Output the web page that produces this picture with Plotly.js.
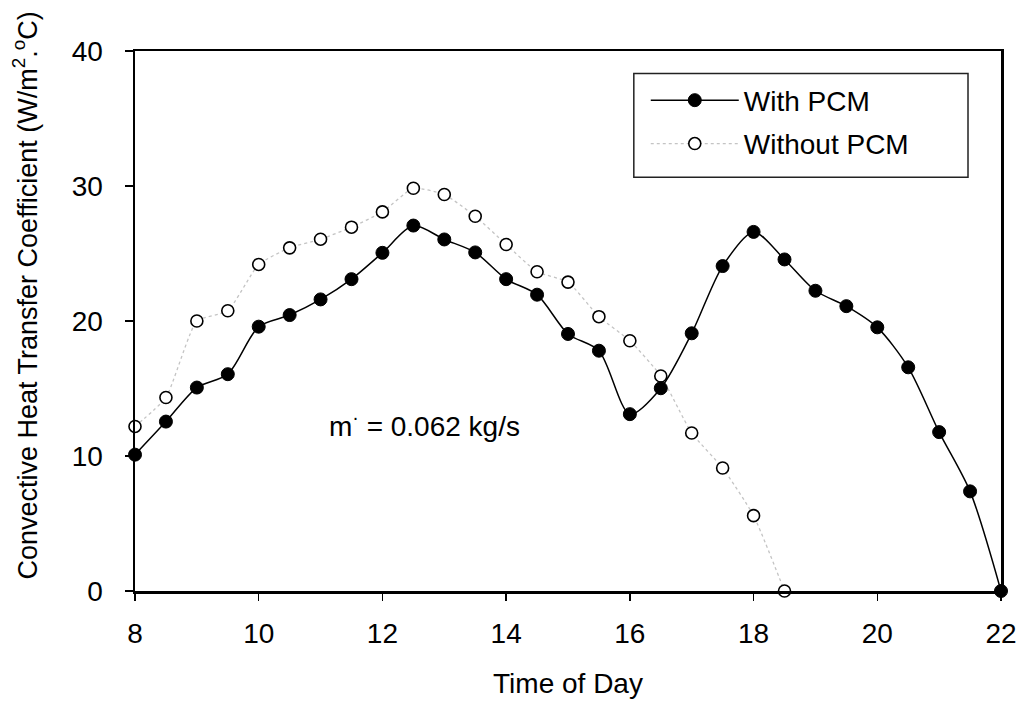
<!DOCTYPE html>
<html>
<head>
<meta charset="utf-8">
<script src="https://cdn.plot.ly/plotly-3.0.1.min.js"></script>
<style>html,body{margin:0;padding:0;background:#fff;}#chart{width:1026px;height:702px;}</style>
</head>
<body>
<div id="chart"></div>
<script>
const timeWith = [8,8.5,9,9.5,10,10.5,11,11.5,12,12.5,13,13.5,14,14.5,15,15.5,16,16.5,17,17.5,18,18.5,19,19.5,20,20.5,21,21.5,22];
const hWith = [10.1,12.55,15.07,16.06,19.58,20.44,21.6,23.1,25.05,27.07,26.04,25.08,23.1,21.95,19.04,17.8,13.1,15.02,19.09,24.07,26.6,24.56,22.24,21.1,19.53,16.57,11.77,7.38,0];
const timeWithout = [8,8.5,9,9.5,10,10.5,11,11.5,12,12.5,13,13.5,14,14.5,15,15.5,16,16.5,17,17.5,18,18.5];
const hWithout = [12.19,14.33,20.0,20.76,24.19,25.42,26.06,26.95,28.08,29.83,29.37,27.76,25.67,23.65,22.88,20.32,18.54,15.93,11.7,9.11,5.58,0];
const seriesNames = ["With PCM","Without PCM"];
const xTicks = [8,10,12,14,16,18,20,22];
const yTicks = [0,10,20,30,40];
const xTitle = "Time of Day";
const yTitle = "Convective Heat Transfer Coefficient (W/m<sup>2</sup>.<sup>o</sup>C)";
const annotationText = "m<sup>·</sup> = 0.062 kg/s";

const FONT = "Liberation Sans, Arial, sans-serif";
const FS = 28;

const traces = [
  {
    x: timeWith, y: hWith, name: seriesNames[0], type: "scatter", mode: "lines+markers",
    legendgroup: "a", legendrank: 1,
    line: {color: "#000", width: 1.5, shape: "spline", smoothing: 0.8},
    marker: {symbol: "circle", size: 13, color: "#000", line: {color: "#000", width: 1}},
    cliponaxis: false
  },
  {
    x: timeWithout, y: hWithout, name: seriesNames[1], type: "scatter", mode: "lines+markers",
    legendgroup: "b", legendrank: 2,
    line: {color: "#c4c4c4", width: 1.3, dash: "dot", shape: "spline", smoothing: 0.5},
    marker: {symbol: "circle", size: 12, color: "#fff", line: {color: "#000", width: 1.6}},
    cliponaxis: false
  }
];
// draw "With PCM" on top
const data = [traces[1], traces[0]];

const layout = {
  width: 1026, height: 702,
  paper_bgcolor: "#fff", plot_bgcolor: "#fff",
  margin: {l: 135, r: 25, t: 51, b: 111, pad: 0},
  font: {family: FONT, size: FS, color: "#000"},
  showlegend: true,
  legend: {
    x: 0.5898, y: 0.9547, xanchor: "left", yanchor: "top",
    borderwidth: 0, bgcolor: "rgba(0,0,0,0)",
    font: {family: FONT, size: FS, color: "#000"},
    tracegroupgap: 4, traceorder: "grouped",
    itemwidth: 88
  },
  shapes: [
    {type: "rect", xref: "paper", yref: "paper", x0: 0.5760, x1: 0.9619, y0: 0.7662, y1: 0.9584,
     line: {color: "#222", width: 1.5}, fillcolor: "rgba(0,0,0,0)", layer: "below"}
  ],
  xaxis: {
    range: [8, 22], tickvals: xTicks, ticktext: xTicks.map(String),
    showgrid: false, zeroline: false,
    showline: true, linecolor: "#000", linewidth: 2.5, mirror: true,
    ticks: "outside", ticklen: 7, tickwidth: 1.5, tickcolor: "#000",
    tickfont: {family: FONT, size: FS},
    ticklabelstandoff: 9,
    title: {text: xTitle, font: {family: FONT, size: FS}, standoff: 26}
  },
  yaxis: {
    range: [0, 40], tickvals: yTicks, ticktext: yTicks.map(String),
    showgrid: false, zeroline: false,
    showline: true, linecolor: "#000", linewidth: 2.5, mirror: true,
    ticks: "outside", ticklen: 8, tickwidth: 1.5, tickcolor: "#000",
    tickfont: {family: FONT, size: FS},
    ticklabelstandoff: 16
  },
  annotations: [
    {x: 12.68, y: 12.4, xref: "x", yref: "y", text: annotationText, showarrow: false,
     font: {family: FONT, size: FS, color: "#000"}, xanchor: "center", yanchor: "middle"},
    {x: -0.1265, y: 0.548, xref: "paper", yref: "paper", text: yTitle, showarrow: false, textangle: -90,
     font: {family: FONT, size: 27, color: "#000"}, xanchor: "center", yanchor: "middle"}
  ]
};

Plotly.newPlot("chart", data, layout, {displayModeBar: false, staticPlot: true});
</script>
</body>
</html>
